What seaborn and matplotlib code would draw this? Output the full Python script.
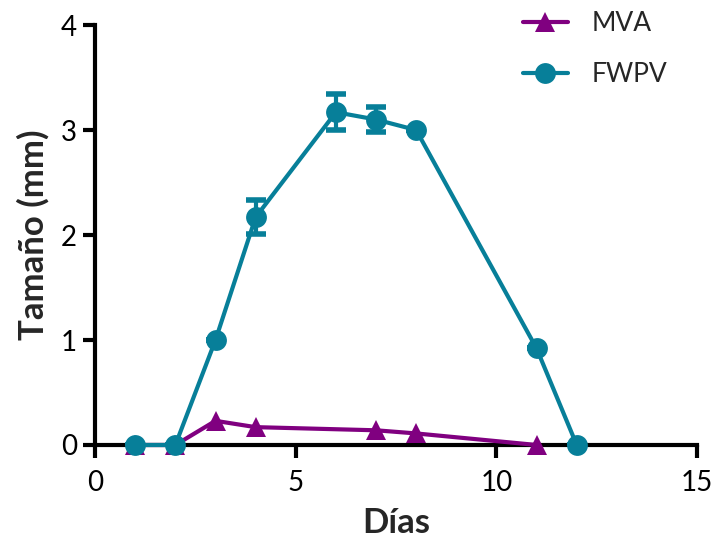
import numpy as np
import pandas as pd
import matplotlib
matplotlib.use("Agg")
import matplotlib.pyplot as plt
import seaborn as sns

dias_mva = [1, 2, 3, 4, 7, 8, 11]
tam_mva = [0, 0, 0.23, 0.17, 0.14, 0.11, 0]

dias_fwpv = [1, 2, 3, 4, 6, 7, 8, 11, 12]
tam_fwpv = [0, 0, 1.0, 2.17, 3.17, 3.10, 3.0, 0.92, 0]
err_fwpv = [0, 0, 0, 0.16, 0.17, 0.12, 0, 0, 0]

purple = "#800080"
teal = "#077f99"

sns.set_style("ticks")
plt.rcParams["font.family"] = ["Lato", "DejaVu Sans"]

fig = plt.figure(figsize=(7.15, 5.45), dpi=100)
ax = fig.add_axes([0.133, 0.1835, 0.842, 0.7705])

df_mva = pd.DataFrame({"Días": dias_mva, "Tamaño": tam_mva})
df_fwpv = pd.DataFrame({"Días": dias_fwpv, "Tamaño": tam_fwpv})

ax.errorbar(dias_fwpv, tam_fwpv, yerr=err_fwpv, fmt="none", ecolor=teal,
            elinewidth=3, capsize=7, capthick=4, zorder=3)
sns.lineplot(data=df_mva, x="Días", y="Tamaño", ax=ax, color=purple, lw=3,
             marker="^", markersize=14, markeredgewidth=0, label="MVA",
             zorder=4, clip_on=False)
sns.lineplot(data=df_fwpv, x="Días", y="Tamaño", ax=ax, color=teal, lw=3,
             marker="o", markersize=15, markeredgewidth=0, label="FWPV",
             zorder=5, clip_on=False)

ax.set_xlim(0, 15)
ax.set_ylim(0, 4)
ax.set_xticks([0, 5, 10, 15])
ax.set_yticks([0, 1, 2, 3, 4])
sns.despine(ax=ax)
for s in ["left", "bottom"]:
    ax.spines[s].set_linewidth(3)
    ax.spines[s].set_color("black")
ax.tick_params(width=3, length=9, labelsize=20, colors="black")
ax.tick_params(axis="x", pad=9)
ax.tick_params(axis="y", pad=4)

ax.set_xlabel("Días", fontsize=25, fontweight="bold", labelpad=8)
ax.set_ylabel("Tamaño (mm)", fontsize=25, fontweight="bold", labelpad=8)

ax.legend(loc="upper right", bbox_to_anchor=(0.99, 1.09), frameon=False,
          fontsize=19, handlelength=1.7, handletextpad=0.9, labelspacing=1.0)

fig.savefig("out.png", dpi=100)
